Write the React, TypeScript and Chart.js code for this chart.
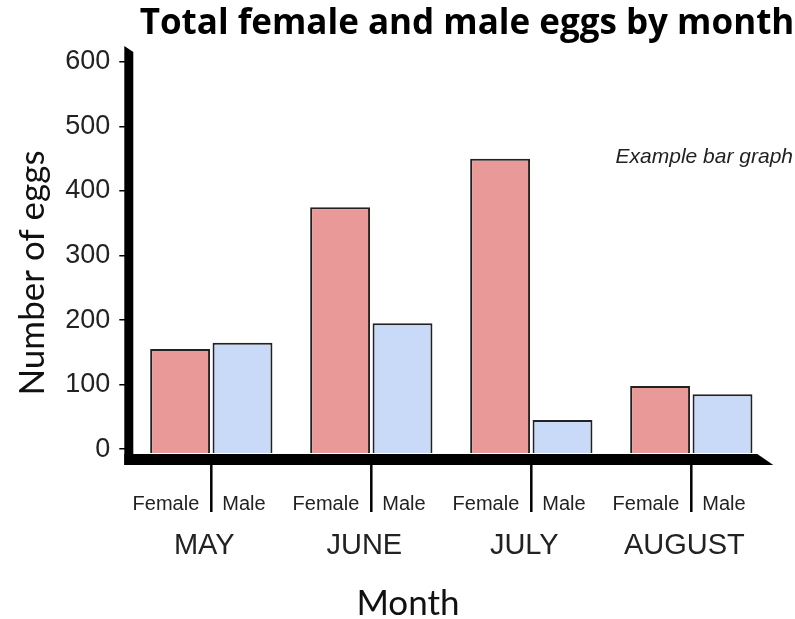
import React, { useEffect, useRef } from 'react';
import { Chart, registerables } from 'chart.js';
Chart.register(...registerables);

const months = ['MAY', 'JUNE', 'JULY', 'AUGUST'];
const femaleEggs = [155, 375, 450, 98];
const maleEggs = [165, 195, 45, 85];
const subLabels = ['Female', 'Male'];
const yTickValues = [0, 50, 100, 150, 200, 250, 300, 350, 400, 450, 500, 550, 600];
const yMin = -6;
const yMax = 600;
const titleText = 'Total female and male eggs by month';
const yTitle = 'Number of eggs';
const xTitle = 'Month';
const noteText = 'Example bar graph';

const decorPlugin = {
  id: 'decor',
  afterDraw(chart: any) {
    const ctx = chart.ctx;
    const ca = chart.chartArea;
    const xs = chart.scales.x;
    ctx.save();
    ctx.fillStyle = '#000';
    // thick left axis
    ctx.beginPath();
    ctx.moveTo(ca.left - 7, ca.top - 16);
    ctx.lineTo(ca.left + 2, ca.top - 10);
    ctx.lineTo(ca.left + 2, ca.bottom + 12);
    ctx.lineTo(ca.left - 7, ca.bottom + 12);
    ctx.closePath();
    ctx.fill();
    // thick bottom axis
    ctx.beginPath();
    ctx.moveTo(ca.left - 7, ca.bottom + 1);
    ctx.lineTo(ca.right - 14, ca.bottom + 1);
    ctx.lineTo(ca.right + 2, ca.bottom + 12);
    ctx.lineTo(ca.left - 7, ca.bottom + 12);
    ctx.closePath();
    ctx.fill();

    // separators and sub labels
    ctx.fillStyle = '#222';
    ctx.strokeStyle = '#000';
    ctx.lineWidth = 2.5;
    months.forEach((m, i) => {
      const cx = xs.getPixelForValue(i);
      ctx.beginPath();
      ctx.moveTo(cx, ca.bottom + 12);
      ctx.lineTo(cx, ca.bottom + 59);
      ctx.stroke();
      ctx.font = '20px "Liberation Sans", Arial, sans-serif';
      ctx.textBaseline = 'alphabetic';
      ctx.textAlign = 'right';
      ctx.fillText(subLabels[0], cx - 12, ca.bottom + 57);
      ctx.textAlign = 'left';
      ctx.fillText(subLabels[1], cx + 11, ca.bottom + 57);
      ctx.font = '29px "Liberation Sans", Arial, sans-serif';
      ctx.textAlign = 'center';
      ctx.fillText(m, cx - 7, ca.bottom + 101);
    });

    // axis titles
    ctx.fillStyle = '#111';
    ctx.font = '35px Lato, sans-serif';
    ctx.textAlign = 'center';
    ctx.textBaseline = 'middle';
    ctx.fillText(xTitle, 408, 604);
    ctx.save();
    ctx.translate(33, 273);
    ctx.rotate(-Math.PI / 2);
    ctx.fillText(yTitle, 0, 0);
    ctx.restore();

    // main title
    ctx.fillStyle = '#000';
    ctx.font = '700 35px "Open Sans", sans-serif';
    ctx.textAlign = 'center';
    ctx.textBaseline = 'middle';
    ctx.fillText(titleText, 467, 24);

    // note
    ctx.fillStyle = '#222';
    ctx.font = 'italic 21px "Liberation Sans", Arial, sans-serif';
    ctx.textAlign = 'right';
    ctx.fillText(noteText, 793, 157);
    ctx.restore();
  },
};

export default function App() {
  const ref = useRef<HTMLCanvasElement>(null);
  useEffect(() => {
    if (!ref.current) return;
    const chart = new Chart(ref.current, {
      type: 'bar',
      data: {
        labels: months,
        datasets: [
          {
            label: subLabels[0],
            data: femaleEggs,
            backgroundColor: '#ea9999',
            borderColor: '#222',
            borderWidth: 2,
            base: yMin,
            categoryPercentage: 0.78,
            barPercentage: 0.96,
          } as any,
          {
            label: subLabels[1],
            data: maleEggs,
            backgroundColor: '#c9daf8',
            borderColor: '#222',
            borderWidth: 2,
            base: yMin,
            categoryPercentage: 0.78,
            barPercentage: 0.96,
          } as any,
        ],
      },
      options: {
        animation: false,
        responsive: true,
        maintainAspectRatio: false,
        layout: { padding: { top: 62, bottom: 166, left: 0, right: 23.7 } },
        plugins: { legend: { display: false }, tooltip: { enabled: false }, title: { display: false } },
        scales: {
          x: { display: false, offset: true },
          y: {
            min: yMin,
            max: yMax,
            afterBuildTicks: (scale: any) => {
              scale.ticks = yTickValues.map((v) => ({ value: v }));
            },
            afterFit: (scale: any) => {
              scale.width = 131.3;
            },
            border: { display: false },
            grid: { drawOnChartArea: false, drawTicks: true, tickLength: 12, color: '#000', lineWidth: 1.5 },
            ticks: {
              padding: 9,
              color: '#222',
              font: { family: '"Liberation Sans", Arial, sans-serif', size: 27 },
              callback: (v: any) => (Number(v) % 100 === 0 ? String(v) : ''),
            },
          },
        },
      },
      plugins: [decorPlugin],
    });
    return () => chart.destroy();
  }, []);
  return (
    <div style={{ position: 'fixed', left: 0, top: 0, width: 795, height: 619, background: '#fff' }}>
      <canvas ref={ref} />
    </div>
  );
}
